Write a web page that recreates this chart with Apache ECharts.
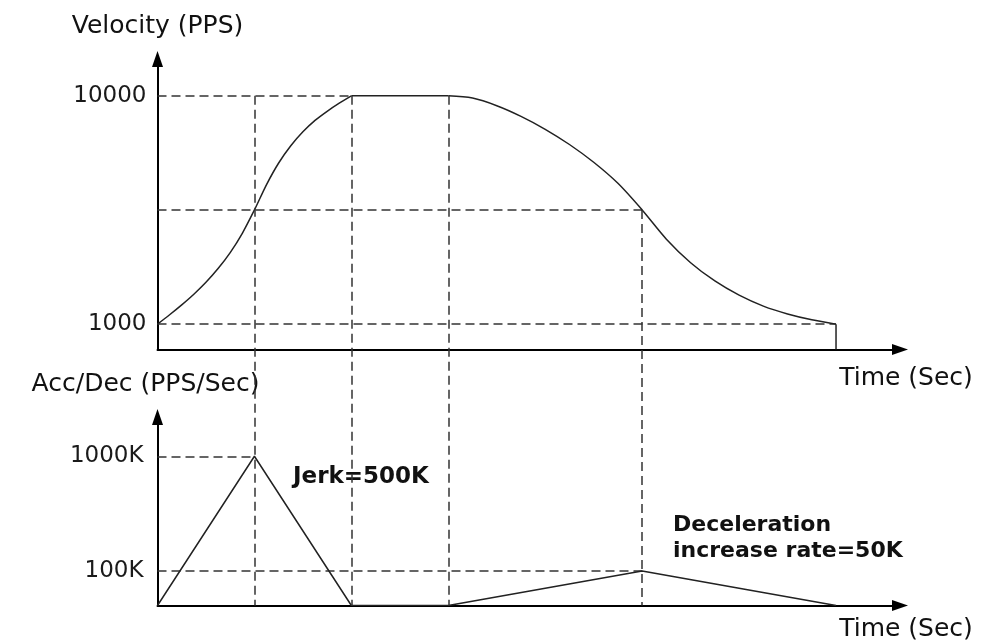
<!DOCTYPE html>
<html>
<head>
<meta charset="utf-8">
<title>Velocity / Acc-Dec profile</title>
<script src="https://cdn.jsdelivr.net/npm/echarts@6/dist/echarts.min.js"></script>
<style>
  html, body { margin: 0; padding: 0; background: #fff; }
  #chart { width: 986px; height: 642px; }
</style>
</head>
<body>
<div id="chart"></div>
<script>
// velocity (PPS) over time, acceleration S-curve
const velAccT = [0, 0.125, 0.25, 0.375, 0.5, 0.625, 0.75, 0.875, 1, 1.125, 1.25, 1.375, 1.5, 1.625, 1.75, 1.875, 2];
const velAccV = [1000, 1370, 1760, 2180, 2650, 3190, 3820, 4580, 5500, 6500, 7350, 8030, 8580, 9030, 9390, 9710, 10000];
// constant speed
const velRunT = [2, 3];
const velRunV = [10000, 10000];
// deceleration S-curve
const velDecT = [3, 3.25, 3.5, 3.75, 4, 4.25, 4.5, 4.75, 5, 5.25, 5.5, 5.75, 6, 6.25, 6.5, 6.75, 7];
const velDecV = [10000, 9910, 9610, 9190, 8680, 8080, 7380, 6550, 5500, 4350, 3420, 2700, 2140, 1710, 1400, 1170, 1000];
// stop
const velStopT = [7, 7];
const velStopV = [1000, 0];
const velTicks = [1000, 10000];
// dashed horizontal guides (value, where it ends)
const velGuideV = [10000, 5500, 1000];
const velGuideEnd = [2, 5, 7];

// acc/dec in K PPS/Sec, log axis -> zero drawn at the axis floor
const accFloor = 50;
const accT = [0, 1, 2, 3, 5, 7];
const accV = [accFloor, 1000, accFloor, accFloor, 100, accFloor];
const accTicks = [100, 1000];
const accGuideV = [1000, 100];
const accGuideEnd = [1, 5];

// phase boundaries, dashed vertical guides running through both panels
const phaseT = [1, 2, 3, 5];
const phaseV = [10000, 10000, 10000, 5500];

const tMax = 7.66;
const velMax = 11450;
const overlayMin = -10090;

const pts = (xs, ys) => xs.map((x, i) => [x, ys[i]]);

const chart = echarts.init(document.getElementById('chart'));

const curveStyle = { color: '#222', width: 1.5 };
const dashStyle = { color: '#333', width: 1.5, type: [9, 5] };
const axisLine = {
    show: true,
    onZero: false,
    symbol: ['none', 'triangle'],
    symbolSize: [11, 16],
    lineStyle: { color: '#000', width: 2 }
};
const nameFont = { fontSize: 25, color: '#111', fontFamily: 'DejaVu Sans' };
const tickFont = { fontSize: 23, color: '#1a1a1a', fontFamily: 'DejaVu Sans' };

function hGuides(vals, ends) {
    return vals.map((v, i) => [{ coord: [0, v] }, { coord: [ends[i], v] }]);
}

const option = {
    animation: false,
    backgroundColor: '#fff',
    textStyle: { fontFamily: 'DejaVu Sans' },
    grid: [
        { left: 157.5, top: 59, width: 742.5, height: 290.5, outerBoundsMode: 'none' },
        { left: 157.5, top: 417, width: 742.5, height: 188.5, outerBoundsMode: 'none' },
        { left: 157.5, top: 59, width: 742.5, height: 546.5, outerBoundsMode: 'none' }
    ],
    xAxis: [
        {
            gridIndex: 0, type: 'value', min: 0, max: tMax,
            axisLine: axisLine, axisTick: { show: false }, axisLabel: { show: false }, splitLine: { show: false },
            name: 'Time (Sec)', nameLocation: 'end', nameGap: 6,
            nameTextStyle: Object.assign({ align: 'center', verticalAlign: 'top', padding: [16, 0, 0, 0] }, nameFont)
        },
        {
            gridIndex: 1, type: 'value', min: 0, max: tMax,
            axisLine: axisLine, axisTick: { show: false }, axisLabel: { show: false }, splitLine: { show: false },
            name: 'Time (Sec)', nameLocation: 'end', nameGap: 6,
            nameTextStyle: Object.assign({ align: 'center', verticalAlign: 'top', padding: [11, 0, 0, 0] }, nameFont)
        },
        { gridIndex: 2, type: 'value', min: 0, max: tMax, show: false }
    ],
    yAxis: [
        {
            gridIndex: 0, type: 'value', min: 0, max: velMax,
            axisLine: axisLine, axisTick: { show: false }, splitLine: { show: false },
            axisLabel: Object.assign({ customValues: velTicks, margin: 11, formatter: v => String(v) }, tickFont),
            name: 'Velocity (PPS)', nameLocation: 'end', nameGap: 20, nameTextStyle: nameFont
        },
        {
            gridIndex: 1, type: 'log', logBase: 10, min: accFloor, max: 2200,
            axisLine: axisLine, axisTick: { show: false }, splitLine: { show: false },
            axisLabel: Object.assign({
                margin: 14,
                formatter: v => accTicks.includes(Math.round(v)) ? Math.round(v) + 'K' : ''
            }, tickFont),
            name: 'Acc/Dec (PPS/Sec)', nameLocation: 'end', nameGap: 20,
            nameTextStyle: Object.assign({ padding: [0, 24, 0, 0] }, nameFont)
        },
        { gridIndex: 2, type: 'value', min: overlayMin, max: velMax, show: false }
    ],
    series: [
        {
            type: 'line', xAxisIndex: 0, yAxisIndex: 0, z: 3,
            data: pts(velAccT, velAccV), smooth: 0.3,
            showSymbol: false, lineStyle: curveStyle,
            markLine: {
                silent: true, symbol: 'none', label: { show: false }, z: 1,
                lineStyle: dashStyle, data: hGuides(velGuideV, velGuideEnd)
            }
        },
        {
            type: 'line', xAxisIndex: 0, yAxisIndex: 0, z: 3,
            data: pts(velRunT, velRunV), showSymbol: false, lineStyle: curveStyle
        },
        {
            type: 'line', xAxisIndex: 0, yAxisIndex: 0, z: 3,
            data: pts(velDecT, velDecV), smooth: 0.3,
            showSymbol: false, lineStyle: curveStyle
        },
        {
            type: 'line', xAxisIndex: 0, yAxisIndex: 0, z: 3,
            data: pts(velStopT, velStopV), showSymbol: false, lineStyle: curveStyle
        },
        {
            type: 'line', xAxisIndex: 1, yAxisIndex: 1, z: 3,
            data: pts(accT, accV), showSymbol: false, lineStyle: curveStyle,
            markLine: {
                silent: true, symbol: 'none', label: { show: false }, z: 1,
                lineStyle: dashStyle, data: hGuides(accGuideV, accGuideEnd)
            }
        },
        {
            type: 'line', xAxisIndex: 2, yAxisIndex: 2, z: 1, data: [],
            markLine: {
                silent: true, symbol: 'none', label: { show: false },
                lineStyle: dashStyle,
                data: phaseT.map((t, i) => [{ coord: [t, phaseV[i]] }, { coord: [t, overlayMin] }])
            }
        }
    ],
    graphic: [
        {
            type: 'text', left: 293, top: 466,
            style: { text: 'Jerk=500K', font: 'bold 23px "DejaVu Sans"', fill: '#111' }
        },
        {
            type: 'text', left: 673, top: 512,
            style: { text: 'Deceleration\nincrease rate=50K', font: 'bold 22px "DejaVu Sans"', fill: '#111', lineHeight: 26 }
        }
    ]
};

chart.setOption(option);
</script>
</body>
</html>
